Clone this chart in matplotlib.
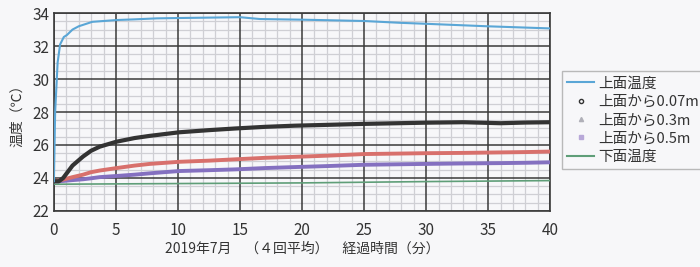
import numpy as np
import matplotlib.pyplot as plt
from matplotlib.lines import Line2D
from matplotlib.ticker import MultipleLocator

plt.rcParams['font.family'] = ['Noto Sans CJK JP', 'DejaVu Sans']

# 経過時間（分）と各深さの温度（℃）
t_top = [0, 0.1, 0.3, 0.5, 0.8, 1.05, 1.5, 2.0, 3.1, 4.0, 5.1, 6.5, 8.3, 10, 12, 15, 16.6, 20, 25, 27.9, 30, 34.9, 40]
top = [23.8, 28.0, 31.0, 32.1, 32.55, 32.67, 33.0, 33.2, 33.47, 33.52, 33.58, 33.62, 33.68, 33.7, 33.72, 33.75, 33.64, 33.6, 33.52, 33.41, 33.35, 33.2, 33.07]

t_mid = [0, 0.4, 0.75, 1.5, 2.35, 3.0, 3.7, 5.05, 6.5, 7.7, 10.1, 12.5, 14.6, 17, 19.4, 22, 25, 29.8, 33, 36, 38, 40]
d007 = [23.8, 23.8, 24.0, 24.75, 25.3, 25.65, 25.9, 26.2, 26.42, 26.55, 26.77, 26.9, 27.0, 27.1, 27.17, 27.22, 27.28, 27.35, 27.38, 27.32, 27.36, 27.38]
d05 = [23.8, 23.85, 23.9, 24.05, 24.2, 24.35, 24.45, 24.6, 24.75, 24.85, 24.98, 25.05, 25.13, 25.22, 25.28, 25.35, 25.45, 25.5, 25.52, 25.55, 25.57, 25.6]
d03 = [23.8, 23.8, 23.82, 23.87, 23.92, 23.98, 24.05, 24.12, 24.2, 24.28, 24.42, 24.47, 24.52, 24.6, 24.66, 24.72, 24.8, 24.85, 24.88, 24.9, 24.92, 24.95]

t_bottom = [0, 10, 20, 30, 40]
bottom = [23.62, 23.66, 23.7, 23.78, 23.84]

labels = ['上面温度', '上面から0.07m', '上面から0.3m', '上面から0.5m', '下面温度']
c_top, c_007, c_03, c_05, c_bot = '#5aa6d6', '#333333', '#8470c0', '#d8706c', '#5f9e78'

fig = plt.figure(figsize=(7, 2.67), dpi=100, facecolor='#f7f7f9')
ax = fig.add_axes([0.077, 0.21, 0.709, 0.741])
ax.set_facecolor('#f7f7f9')

ax.set_xlim(0, 40)
ax.set_ylim(22, 34)
ax.xaxis.set_major_locator(MultipleLocator(5))
ax.xaxis.set_minor_locator(MultipleLocator(1))
ax.yaxis.set_major_locator(MultipleLocator(2))
ax.yaxis.set_minor_locator(MultipleLocator(0.5))

# 細い補助グリッド、太い主グリッドはその上に描く
ax.grid(which='minor', color='#cfcfd4', lw=0.9)
ax.set_axisbelow(True)
ax.vlines(ax.get_xticks(), 22, 34, color='#3a3a3a', lw=1.1, zorder=1.5)
ax.hlines(ax.get_yticks(), 0, 40, color='#3a3a3a', lw=1.1, zorder=1.5)

ax.plot(t_bottom, bottom, color=c_bot, lw=1.2, zorder=3)
ax.plot(t_mid, d03, color=c_03, lw=2.8, zorder=3)
ax.plot(t_mid, d05, color=c_05, lw=2.8, zorder=3)
ax.plot(t_mid, d007, color=c_007, lw=3.0, zorder=4)
ax.plot(t_top, top, color=c_top, lw=1.5, zorder=4)

ax.set_xlim(0, 40)
ax.set_ylim(22, 34)
ax.tick_params(which='both', length=0, labelsize=11, colors='#333333')
ax.tick_params(axis='x', pad=8)
for s in ax.spines.values():
    s.set_color('#3a3a3a')
    s.set_linewidth(1.2)

ax.set_ylabel('温度（℃）', fontsize=10, color='#333333', labelpad=6)
ax.set_xlabel('2019年7月　（４回平均）　経過時間（分）', fontsize=10, color='#333333', labelpad=2)

handles = [
    Line2D([], [], color=c_top, lw=1.5),
    Line2D([], [], ls='none', marker='o', ms=3, mfc='none', mec='#333333', mew=1),
    Line2D([], [], ls='none', marker='^', ms=3, color='#b0b0b8'),
    Line2D([], [], ls='none', marker='s', ms=3, color='#b8a8d8'),
    Line2D([], [], color=c_bot, lw=1.5),
]
leg = fig.legend(handles, labels, loc='upper left', bbox_to_anchor=(0.793, 0.76),
                 fontsize=10.5, frameon=True, fancybox=False, handlelength=1.8,
                 handletextpad=0.3, borderpad=0.35, labelspacing=0.3,
                 labelcolor='#333333')
leg.get_frame().set_edgecolor('#aaaaaa')
leg.get_frame().set_facecolor('#f7f7f9')

fig.savefig('out.png', dpi=100, facecolor=fig.get_facecolor())
